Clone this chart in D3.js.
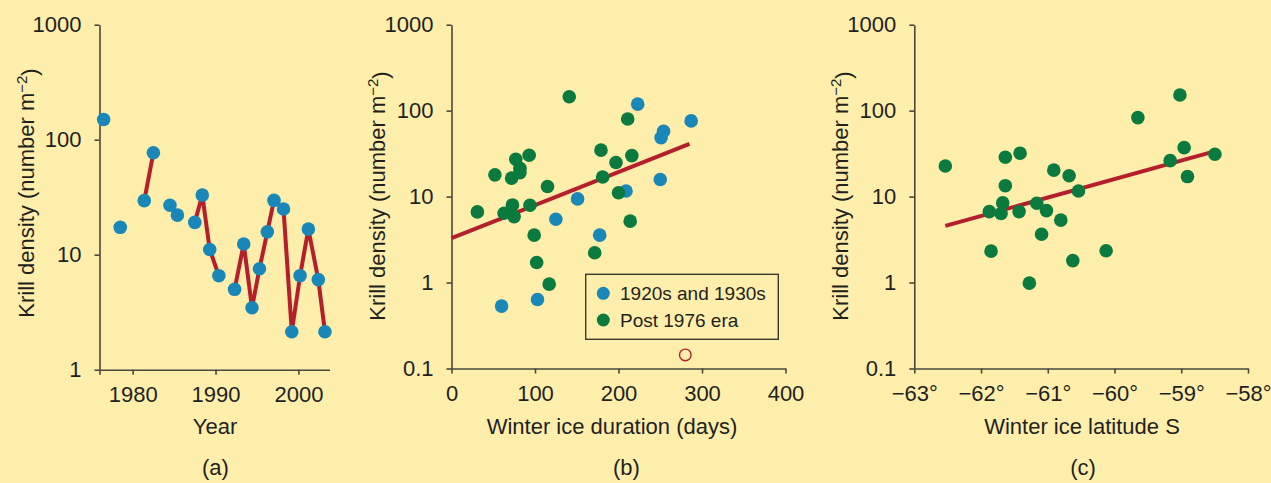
<!DOCTYPE html>
<html>
<head>
<meta charset="utf-8">
<script src="https://cdn.jsdelivr.net/npm/d3@7"></script>
<style>
  html, body { margin: 0; padding: 0; background: #feeeab; }
  svg text { font-family: "Liberation Sans", Arial, Helvetica, sans-serif; fill: #231f20; }
  .axis path, .axis line { stroke: #4a473d; stroke-width: 1.6; }
  .axis text { font-size: 22px; }
</style>
</head>
<body>
<div id="chart"></div>
<script>
// (a) krill density by year; seg = which red line piece the point belongs to (null = not joined)
const yearsA = [1976.5, 1978.5, 1981.4, 1982.5, 1984.5, 1985.4, 1987.5, 1988.4, 1989.3, 1990.4,
  1992.3, 1993.4, 1994.4, 1995.3, 1996.25, 1997.05, 1998.2, 1999.2, 2000.2, 2001.2, 2002.4, 2003.2];
const krillA = [150, 17.3, 29.5, 77, 26.9, 22.1, 19.1, 33, 11.1, 6.57,
  5.0, 12.4, 3.46, 7.55, 15.8, 29.7, 25, 2.14, 6.57, 16.7, 6.07, 2.14];
const segA = [null, null, 1, 1, null, null, 2, 2, 2, 2,
  3, 3, 3, 3, 3, 3, 3, 3, 3, 3, 3, 3];

// (b) krill density vs winter ice duration
const daysOld = [223, 287, 254, 251, 250, 209, 151, 125, 177.5, 103, 60];
const krillOld = [119, 76, 57.6, 48.5, 15.8, 11.6, 9.4, 5.46, 3.56, 0.634, 0.532];
const daysNew = [141, 93, 77, 52, 72, 82, 82, 115, 31, 63, 73, 75, 94, 99, 102, 117,
  211, 179, 216, 197, 181, 200, 214, 171.5];
const krillNew = [145, 30.3, 27.2, 17.9, 16.4, 21.4, 19, 13.1, 6.64, 6.41, 8.0, 5.85, 7.94, 3.56, 1.71, 0.958,
  80, 34.7, 30, 24.9, 16.9, 11.1, 5.18, 2.22];
const fitB = [[0, 3.28], [285, 41]];
const outlierB = [280, 0.144];
const legendB = ["1920s and 1930s", "Post 1976 era"];

// (c) krill density vs winter ice latitude
const latC = [-62.535, -61.636, -61.415, -61.636, -61.675, -61.876, -61.7, -61.43, -61.165, -60.91,
  -61.02, -60.805, -61.093, -61.85, -60.625, -60.126, -61.276, -59.02, -59.65, -58.957,
  -59.166, -58.496, -58.907, -60.68, -60.54];
const krillC = [22.7, 28.7, 32, 13.4, 8.45, 6.69, 6.35, 6.69, 8.38, 20.3,
  6.87, 5.32, 3.65, 2.32, 1.80, 2.34, 0.984, 152, 83, 37.1,
  26.2, 31.1, 17.1, 17.5, 11.6];
const fitC = [[-62.535, 4.56], [-58.517, 33.4]];

const blue = "#1a87b9", green = "#0b7a3e", red = "#b41f2b";
const W = 1271, H = 483, R = 6.8;

const svg = d3.select('#chart').append('svg')
  .attr('width', W).attr('height', H);
svg.append('rect').attr('width', W).attr('height', H).attr('fill', '#feeeab');

function yTitle(x, y) {
  const t = svg.append('text')
    .attr('transform', `translate(${x},${y}) rotate(-90)`)
    .attr('text-anchor', 'middle')
    .style('font-size', '22px');
  t.append('tspan').text('Krill density (number m');
  t.append('tspan').attr('dy', '-0.45em').style('font-size', '15px').text('\u22122');
  t.append('tspan').attr('dy', '0.45em').text(')');
}

function title(x, y, s) {
  svg.append('text').attr('x', x).attr('y', y)
    .attr('text-anchor', 'middle').style('font-size', '22px').text(s);
}

function axes(x, y, xTicks, xFmt, yTicks, yFmt) {
  const y0 = y.range()[0];
  const x0 = x.range()[0];
  svg.append('g').attr('class', 'axis')
    .attr('transform', `translate(0,${y0})`)
    .call(d3.axisBottom(x).tickValues(xTicks).tickFormat(xFmt)
      .tickSizeInner(5).tickSizeOuter(0).tickPadding(12));
  svg.append('g').attr('class', 'axis')
    .attr('transform', `translate(${x0},0)`)
    .call(d3.axisLeft(y).tickValues(yTicks).tickFormat(yFmt)
      .tickSizeInner(5).tickSizeOuter(0).tickPadding(13));
  svg.selectAll('.axis .domain').attr('fill', 'none');
}

// ---- panel a
const xA = d3.scaleLinear().domain([1976, 2003.75]).range([99.5, 329.5]);
const yA = d3.scaleLog().domain([1, 1000]).range([369.7, 24.7]);
axes(xA, yA, [1976, 1980, 1990, 2000], d => d === 1976 ? '' : d,
  [1, 10, 100, 1000], d3.format('d'));

const ptsA = yearsA.map((d, i) => ({ x: d, y: krillA[i], seg: segA[i] }));
const lineA = d3.line().x(d => xA(d.x)).y(d => yA(d.y));
d3.groups(ptsA.filter(d => d.seg !== null), d => d.seg).forEach(([k, v]) => {
  svg.append('path').attr('d', lineA(v))
    .attr('fill', 'none').attr('stroke', red).attr('stroke-width', 4)
    .attr('stroke-linejoin', 'round');
});
svg.append('g').selectAll('circle').data(ptsA).join('circle')
  .attr('cx', d => xA(d.x)).attr('cy', d => yA(d.y)).attr('r', R).attr('fill', blue);

yTitle(34, 193);
title(215, 434, 'Year');
title(215.5, 475, '(a)');

// ---- panel b
const xB = d3.scaleLinear().domain([0, 400]).range([451.5, 785.5]);
const yB = d3.scaleLog().domain([0.1, 1000]).range([368.5, 24.7]);
const yFmt = d => d < 1 ? '0.1' : d3.format('d')(d);
axes(xB, yB, [0, 100, 200, 300, 400], d3.format('d'), [0.1, 1, 10, 100, 1000], yFmt);

svg.append('line')
  .attr('x1', xB(fitB[0][0])).attr('y1', yB(fitB[0][1]))
  .attr('x2', xB(fitB[1][0])).attr('y2', yB(fitB[1][1]))
  .attr('stroke', red).attr('stroke-width', 4);
svg.append('g').selectAll('circle').data(daysOld).join('circle')
  .attr('cx', d => xB(d)).attr('cy', (d, i) => yB(krillOld[i])).attr('r', R).attr('fill', blue);
svg.append('g').selectAll('circle').data(daysNew).join('circle')
  .attr('cx', d => xB(d)).attr('cy', (d, i) => yB(krillNew[i])).attr('r', R).attr('fill', green);
svg.append('circle')
  .attr('cx', xB(outlierB[0])).attr('cy', yB(outlierB[1])).attr('r', 5.8)
  .attr('fill', 'none').attr('stroke', red).attr('stroke-width', 1.4);

const lg = svg.append('g').attr('transform', 'translate(585.7,274.3)');
lg.append('rect').attr('width', 192.6).attr('height', 65)
  .attr('fill', 'none').attr('stroke', '#3d3a33').attr('stroke-width', 1.4);
legendB.forEach((s, i) => {
  lg.append('circle').attr('cx', 17.6).attr('cy', 19 + i * 26.7).attr('r', 6.5)
    .attr('fill', i === 0 ? blue : green);
  lg.append('text').attr('x', 34.3).attr('y', 26 + i * 26.7)
    .style('font-size', '19px').text(s);
});

yTitle(385, 196);
title(612, 434, 'Winter ice duration (days)');
title(626.5, 475, '(b)');

// ---- panel c
const xC = d3.scaleLinear().domain([-63, -58]).range([914.3, 1248]);
const yC = d3.scaleLog().domain([0.1, 1000]).range([368.5, 24.7]);
axes(xC, yC, [-63, -62, -61, -60, -59, -58], d => '\u2212' + Math.abs(d) + '\u00b0',
  [0.1, 1, 10, 100, 1000], yFmt);

svg.append('line')
  .attr('x1', xC(fitC[0][0])).attr('y1', yC(fitC[0][1]))
  .attr('x2', xC(fitC[1][0])).attr('y2', yC(fitC[1][1]))
  .attr('stroke', red).attr('stroke-width', 4);
svg.append('g').selectAll('circle').data(latC).join('circle')
  .attr('cx', d => xC(d)).attr('cy', (d, i) => yC(krillC[i])).attr('r', R).attr('fill', green);

yTitle(848, 196);
title(1082, 434, 'Winter ice latitude S');
title(1083, 475, '(c)');
</script>
</body>
</html>
